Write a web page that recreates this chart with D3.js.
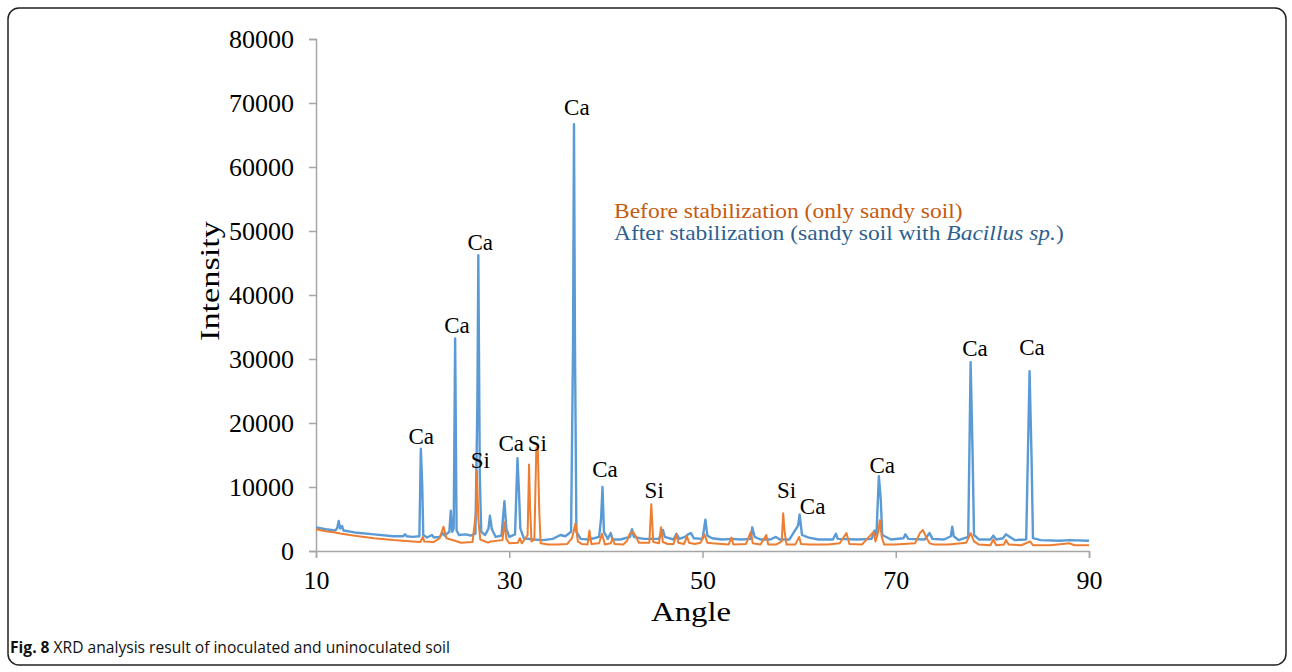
<!DOCTYPE html>
<html>
<head>
<meta charset="utf-8">
<script src="https://cdn.jsdelivr.net/npm/d3@7"></script>
<style>
  body { margin: 0; background: #fff; }
  svg { display: block; }
</style>
</head>
<body>
<script>
var w = 1292;
var h = 672;

// XRD patterns, [angle, intensity]
var beforeStab = [
  [10,3400],[11,3100],[12,2900],[12.5,2750],[14,2400],[16,2000],[18,1700],[20,1500],[20.8,1400],[21.05,2200],[21.2,1500],
  [22.2,1400],[22.8,2000],[23.2,3800],[23.5,2000],[24.4,1600],[25,1300],[26.2,1400],[26.55,6000],[26.65,12500],[26.8,5000],
  [27,1800],[27.8,1300],[28.1,1500],[29.3,1700],[29.5,4500],[29.7,1900],[30,1200],[30.9,1300],[31.1,2000],[31.3,1200],
  [31.9,2500],[32.05,13500],[32.15,7000],[32.3,1500],[32.6,1800],[32.8,16000],[32.95,16500],[33.1,6500],[33.25,1200],
  [34,1000],[35,1000],[36,1100],[36.5,2000],[36.85,4300],[37.1,1500],[37.5,1100],[38.1,1000],[38.3,3200],[38.5,1100],
  [39.3,1200],[39.6,2700],[39.9,1000],[40.5,1200],[40.7,2000],[40.9,1100],[41.8,1000],[42.2,1600],[42.5,2800],[42.8,3000],
  [43.1,2300],[43.4,1300],[44.5,1300],[44.7,7300],[44.9,1400],[45.5,1200],[45.7,3700],[45.9,1400],[46.4,1100],[47,1100],
  [47.3,2600],[47.5,1300],[48.1,1100],[48.4,2300],[48.6,1300],[49.2,1100],[49.8,1300],[50.2,2600],[50.5,1300],[51,1200],
  [52,1100],[52.7,1000],[53.0,2100],[53.2,1000],[54.5,1100],[55.0,3000],[55.2,1200],[56,1000],[56.6,2500],[56.8,1000],
  [57.6,1000],[58.2,1500],[58.35,5900],[58.5,3000],[58.7,1000],[59.6,1000],[60.0,2200],[60.2,1100],[61,1000],[63,1000],
  [64.2,1200],[64.9,2800],[65.2,1100],[66.5,1000],[67.7,3000],[67.9,1500],[68.2,3000],[68.35,4800],[68.55,2200],[68.8,1000],
  [70,1000],[72,1200],[72.5,2800],[72.8,3300],[73.2,2000],[73.5,1200],[74,1000],[75.5,1000],[77.3,1300],[77.75,2800],
  [78.1,1500],[78.6,1000],[79.8,900],[80.1,1800],[80.4,900],[81.2,1000],[81.4,1700],[81.7,1000],[83,900],[83.9,1500],
  [84.2,900],[86,900],[88,1200],[88.5,900],[90,900]
];

var afterStab = [
  [10,3700],[11,3400],[12,3200],[12.2,3600],[12.35,4700],[12.5,3500],[12.7,3900],[12.85,3200],[14,2900],[16,2600],[18,2300],
  [19,2300],[19.2,2600],[19.4,2300],[20,2200],[20.7,2300],[20.85,16000],[21.0,10000],[21.1,2500],[21.5,2100],[22,2500],
  [22.2,2100],[22.8,2200],[23.1,2800],[23.3,2400],[23.8,3000],[23.95,6300],[24.1,3000],[24.25,3500],[24.4,33200],[24.55,3200],
  [24.8,2500],[25.5,2600],[26.0,2400],[26.5,2700],[26.7,23000],[26.8,46200],[26.95,12000],[27.1,3000],[27.5,2500],[27.85,3500],
  [28.0,5500],[28.2,3400],[28.6,2200],[29.2,2400],[29.5,7800],[29.7,3500],[30.0,2200],[30.6,2600],[30.85,14500],[31.0,9500],
  [31.15,3500],[31.5,2000],[32.5,1800],[33.5,1700],[34.5,1900],[35.3,2500],[35.8,2300],[36.4,3000],[36.6,32000],[36.7,66700],
  [36.8,32500],[36.95,3000],[37.4,1900],[38.3,1800],[39.3,2200],[39.5,5000],[39.65,10000],[39.8,3000],[40.2,1900],[40.5,2800],
  [40.7,1800],[41.5,1800],[42.5,2200],[42.7,3400],[42.9,2200],[43.5,2000],[44,1900],[45.5,1900],[45.9,3300],[46.1,2200],
  [47,1800],[47.3,2700],[47.6,1900],[48.2,2200],[48.5,2600],[48.8,2800],[49.1,2000],[50,1900],[50.3,4900],[50.5,2400],
  [51,2000],[52,1800],[53,1900],[54,1800],[55,1900],[55.15,3700],[55.4,2200],[56,1800],[57,1800],[57.6,2200],[58,1800],
  [59,1800],[59.9,4000],[60.05,5700],[60.3,2500],[61,2100],[62,1800],[63.5,1800],[63.8,2700],[64.0,1900],[66,1800],
  [67.5,1900],[67.8,3200],[68.0,2400],[68.25,11700],[68.45,8000],[68.6,2500],[69.5,1800],[70.8,2000],[71.0,2600],[71.3,1900],
  [73,1800],[73.5,2800],[73.8,1900],[75,1800],[75.7,2300],[75.85,3800],[76.0,2300],[76.5,1700],[77.5,2200],[77.75,29500],
  [77.95,15300],[78.1,2500],[78.6,1800],[79.8,1800],[80.1,2400],[80.4,1800],[81.1,2000],[81.4,2600],[81.7,2300],[82.3,1700],
  [83.5,1800],[83.85,28100],[84.05,15000],[84.2,2000],[85,1700],[87,1600],[88,1700],[90,1600]
];

// peak labels: text, angle, intensity of the text baseline
var peakText = ["Ca","Ca","Ca","Si","Ca","Si","Ca","Ca","Si","Si","Ca","Ca","Ca","Ca"];
var peakAngle = [20.9,24.6,27.0,27.0,30.2,32.9,37.0,39.9,45.0,58.7,61.4,68.6,78.2,84.1];
var peakIntensity = [16700,34000,47000,13000,15600,15600,68200,11600,8300,8300,5800,12200,30500,30600];

var xTicks = [10,30,50,70,90];
var yTicks = [0,10000,20000,30000,40000,50000,60000,70000,80000];

var seriesNames = ["Before stabilization (only sandy soil)", "After stabilization (sandy soil with "];

var svg = d3.select("body")
  .append("svg")
  .attr("width", w)
  .attr("height", h);

// frame round the figure
svg.append("rect")
  .attr("x", 8).attr("y", 8)
  .attr("width", 1278).attr("height", 657)
  .attr("rx", 11)
  .attr("fill", "none")
  .attr("stroke", "#222")
  .attr("stroke-width", 1.5);

var x = d3.scaleLinear()
  .domain([10, 90])
  .range([316, 1089]);

var y = d3.scaleLinear()
  .domain([0, 80000])
  .range([551, 39]);

var serif = "'Liberation Serif', 'Times New Roman', serif";

var yAxis = svg.append("g")
  .attr("transform", "translate(316,0)")
  .call(d3.axisLeft(y).tickValues(yTicks).tickSizeOuter(0).tickSize(7).tickPadding(15).tickFormat(d3.format("d")));

var xAxis = svg.append("g")
  .attr("transform", "translate(0,551)")
  .call(d3.axisBottom(x).tickValues(xTicks).tickSizeOuter(0).tickSize(7).tickPadding(13));

[xAxis, yAxis].forEach(function(g) {
  g.select(".domain").attr("stroke", "#a6a6a6").attr("stroke-width", 1.5);
  g.selectAll(".tick line").attr("stroke", "#a6a6a6").attr("stroke-width", 1.5);
  g.selectAll("text")
    .attr("font-family", serif)
    .attr("font-size", 26)
    .attr("fill", "#000");
});

var line = d3.line()
  .x(function(d) { return x(d[0]); })
  .y(function(d) { return y(d[1]); });

svg.append("path")
  .datum(afterStab)
  .attr("d", line)
  .attr("fill", "none")
  .attr("stroke", "#5b9bd5")
  .attr("stroke-width", 2.4)
  .attr("stroke-linejoin", "round");

svg.append("path")
  .datum(beforeStab)
  .attr("d", line)
  .attr("fill", "none")
  .attr("stroke", "#ed7d31")
  .attr("stroke-width", 2)
  .attr("stroke-linejoin", "round");

svg.selectAll(".peak")
  .data(peakText)
  .enter().append("text")
    .attr("class", "peak")
    .attr("x", function(d, i) { return x(peakAngle[i]); })
    .attr("y", function(d, i) { return y(peakIntensity[i]); })
    .attr("text-anchor", "middle")
    .attr("font-family", serif)
    .attr("font-size", 23)
    .attr("fill", "#000")
    .text(function(d) { return d; });

// axis titles
svg.append("text")
  .attr("x", 691).attr("y", 621)
  .attr("text-anchor", "middle")
  .attr("font-family", serif)
  .attr("font-size", 27)
  .attr("textLength", 80)
  .attr("lengthAdjust", "spacingAndGlyphs")
  .text("Angle");

svg.append("text")
  .attr("transform", "translate(219,281) rotate(-90)")
  .attr("text-anchor", "middle")
  .attr("font-family", serif)
  .attr("font-size", 27)
  .attr("textLength", 120)
  .attr("lengthAdjust", "spacingAndGlyphs")
  .text("Intensity");

// legend
var legend = svg.append("g")
  .attr("transform", "translate(614,0) scale(1.12,1)");

legend.append("text")
  .attr("x", 0).attr("y", 218)
  .attr("font-family", serif)
  .attr("font-size", 21)
  .attr("fill", "#c55a11")
  .text(seriesNames[0]);

var leg2 = legend.append("text")
  .attr("x", 0).attr("y", 240)
  .attr("font-family", serif)
  .attr("font-size", 21)
  .attr("fill", "#2e5f8e");
leg2.append("tspan").text(seriesNames[1]);
leg2.append("tspan").attr("font-style", "italic").text("Bacillus sp.");
leg2.append("tspan").text(")");

// caption
var cap = svg.append("text")
  .attr("x", 10).attr("y", 653)
  .attr("font-family", "'Open Sans', sans-serif")
  .attr("font-size", 15.6)
  .attr("fill", "#111");
cap.append("tspan").attr("font-weight", "bold").text("Fig. 8");
cap.append("tspan").text(" XRD analysis result of inoculated and uninoculated soil");
</script>
</body>
</html>
